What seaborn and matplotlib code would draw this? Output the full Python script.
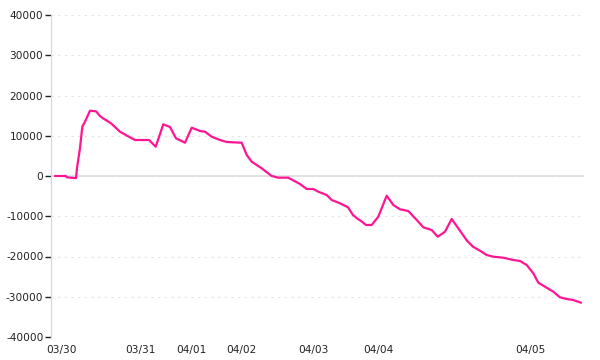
import matplotlib
matplotlib.use("Agg")
import matplotlib.pyplot as plt
import seaborn as sns
import pandas as pd

# sample position along the x axis and cumulative value
sample = [4, 14.7, 16, 23, 25, 26, 29, 31.3, 34, 39, 45, 49, 52, 60, 69, 79, 84, 98,
          104.7, 112.3, 119, 125, 134, 140.7, 149, 154, 160.7, 169, 175.7, 190.7,
          195.7, 200.7, 210.7, 220.7, 227.3, 237.3, 249, 255.7, 262.3, 267.3, 275.7,
          280.7, 289, 297, 302, 306, 311, 315, 320.7, 327.3, 335.7, 342.3, 349,
          357.3, 367.3, 372.3, 380.7, 386.7, 394, 400.7, 407.3, 416, 422, 429, 435.7,
          442.3, 452.3, 462.3, 469, 475.7, 482.3, 487.3, 494, 502.3, 509, 515.7,
          522.3, 530]
value = [0, 0, -320, -500, -500, 2000, 6960, 12250, 13500, 16220, 16070, 14900,
         14340, 13090, 11000, 9610, 8940, 8940, 7280, 12840, 12170, 9370, 8270,
         12000, 11180, 11000, 9760, 8940, 8450, 8270, 5220, 3550, 1910, 0, -420,
         -420, -1990, -3230, -3230, -3900, -4720, -5960, -6780, -7780, -9690,
         -10510, -11350, -12170, -12170, -10110, -4890, -7200, -8270, -8700,
         -11350, -12750, -13420, -15080, -13840, -10680, -13000, -16070, -17570,
         -18560, -19630, -20050, -20300, -20870, -21120, -22110, -24170, -26510,
         -27500, -28740, -30140, -30560, -30810, -31480]

tick_pos = [10.5, 89.5, 140.5, 190.5, 262, 327, 479]
tick_labels = ["03/30", "03/31", "04/01", "04/02", "04/03", "04/04", "04/05"]
y_ticks = [-40000, -30000, -20000, -10000, 0, 10000, 20000, 30000, 40000]

df = pd.DataFrame({"sample": sample, "value": value})

sns.set_style("white")
plt.rcParams["font.family"] = ["DejaVu Sans"]

fig = plt.figure(figsize=(6, 3.6), dpi=100)
ax = fig.add_axes([51 / 600, 1 - 337 / 360, 533 / 600, 322 / 360])

ax.set_ylim(-40000, 40000)
ax.set_xlim(0, 533)
ax.set_yticks(y_ticks)
ax.set_yticklabels([str(v) for v in y_ticks])
ax.set_xticks(tick_pos)
ax.set_xticklabels(tick_labels)

ax.yaxis.grid(True, color="#e3e3e3", linewidth=0.8, linestyle=(0, (2, 4)))
ax.xaxis.grid(False)
ax.axhline(0, color="#dddddd", linewidth=1.2, zorder=1)

sns.lineplot(data=df, x="sample", y="value", ax=ax, color="#ff1493",
             linewidth=1.6, zorder=3)

ax.set_xlabel("")
ax.set_ylabel("")
for s in ["top", "right", "bottom"]:
    ax.spines[s].set_visible(False)
ax.spines["left"].set_color("#d9d9d9")
ax.spines["left"].set_linewidth(0.9)

ax.tick_params(axis="y", which="both", left=True, length=4.5, width=1,
               color="#222222", labelsize=7.6, labelcolor="#222222", pad=1)
ax.tick_params(axis="x", which="both", bottom=False, length=0,
               labelsize=7.6, labelcolor="#222222", pad=6)

fig.savefig("out.png", dpi=100)
